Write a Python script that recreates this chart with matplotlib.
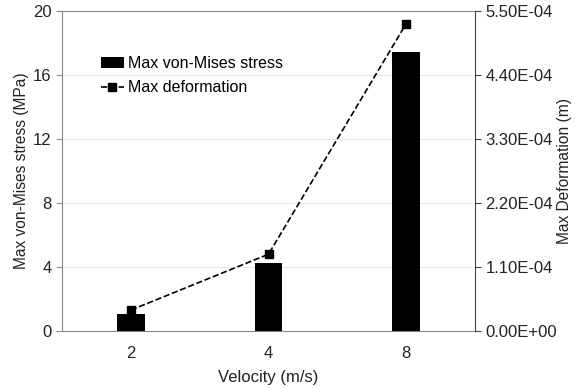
import numpy as np
import matplotlib.pyplot as plt
from matplotlib.ticker import FuncFormatter

plt.rcParams['font.family'] = ['Liberation Sans', 'DejaVu Sans']

# data
velocity = ['2', '4', '8']
stress = [1.06, 4.27, 17.46]            # MPa
deformation = [3.6e-5, 1.32e-4, 5.28e-4]  # m

x = np.arange(len(velocity))

fig, ax1 = plt.subplots(figsize=(5.75, 3.89), dpi=100)
fig.subplots_adjust(left=0.108, right=0.826, top=0.972, bottom=0.149)

ax1.bar(x, stress, width=0.2, color='black', label='Max von-Mises stress', zorder=3)
ax1.set_xlim(-0.5, 2.5)
ax1.set_ylim(0, 20)
ax1.set_yticks(np.arange(0, 21, 4))
ax1.set_xticks(x)
ax1.set_xticklabels(velocity)
ax1.yaxis.grid(True, color='#e6e6e6', linewidth=0.8, zorder=0)
ax1.set_axisbelow(True)
ax1.set_xlabel('Velocity (m/s)', fontsize=12, color='#222222', labelpad=6)
ax1.set_ylabel('Max von-Mises stress (MPa)', fontsize=11.2, color='#222222', labelpad=3)
ax1.tick_params(axis='y', labelsize=12, colors='#222222', length=4, color='#888888')
ax1.tick_params(axis='x', labelsize=12, colors='#222222', length=0, pad=11)
for s in ['left', 'bottom', 'top']:
    ax1.spines[s].set_color('#888888')
ax1.spines['right'].set_visible(False)

ax2 = ax1.twinx()
ax2.plot(x, deformation, linestyle='--', color='black', marker='s', markersize=5.5,
         linewidth=1.2, label='Max deformation', zorder=4)
ax2.set_ylim(0, 5.5e-4)
ax2.set_yticks(np.arange(0, 6) * 1.1e-4)
ax2.yaxis.set_major_formatter(FuncFormatter(lambda v, p: f'{v:.2E}'))
ax2.set_ylabel('Max Deformation (m)', fontsize=11.2, color='#222222', labelpad=0)
ax2.tick_params(axis='y', labelsize=12, colors='#222222', length=4, color='#444444')
ax2.spines['right'].set_color('#444444')
for s in ['left', 'bottom', 'top']:
    ax2.spines[s].set_visible(False)

h1, l1 = ax1.get_legend_handles_labels()
h2, l2 = ax2.get_legend_handles_labels()
ax1.legend(h1 + h2, l1 + l2, loc='upper left', bbox_to_anchor=(0.06, 0.905),
           frameon=False, fontsize=11.5, handlelength=1.4, handletextpad=0.25,
           labelspacing=0.6)

plt.savefig('out.png', dpi=100)
